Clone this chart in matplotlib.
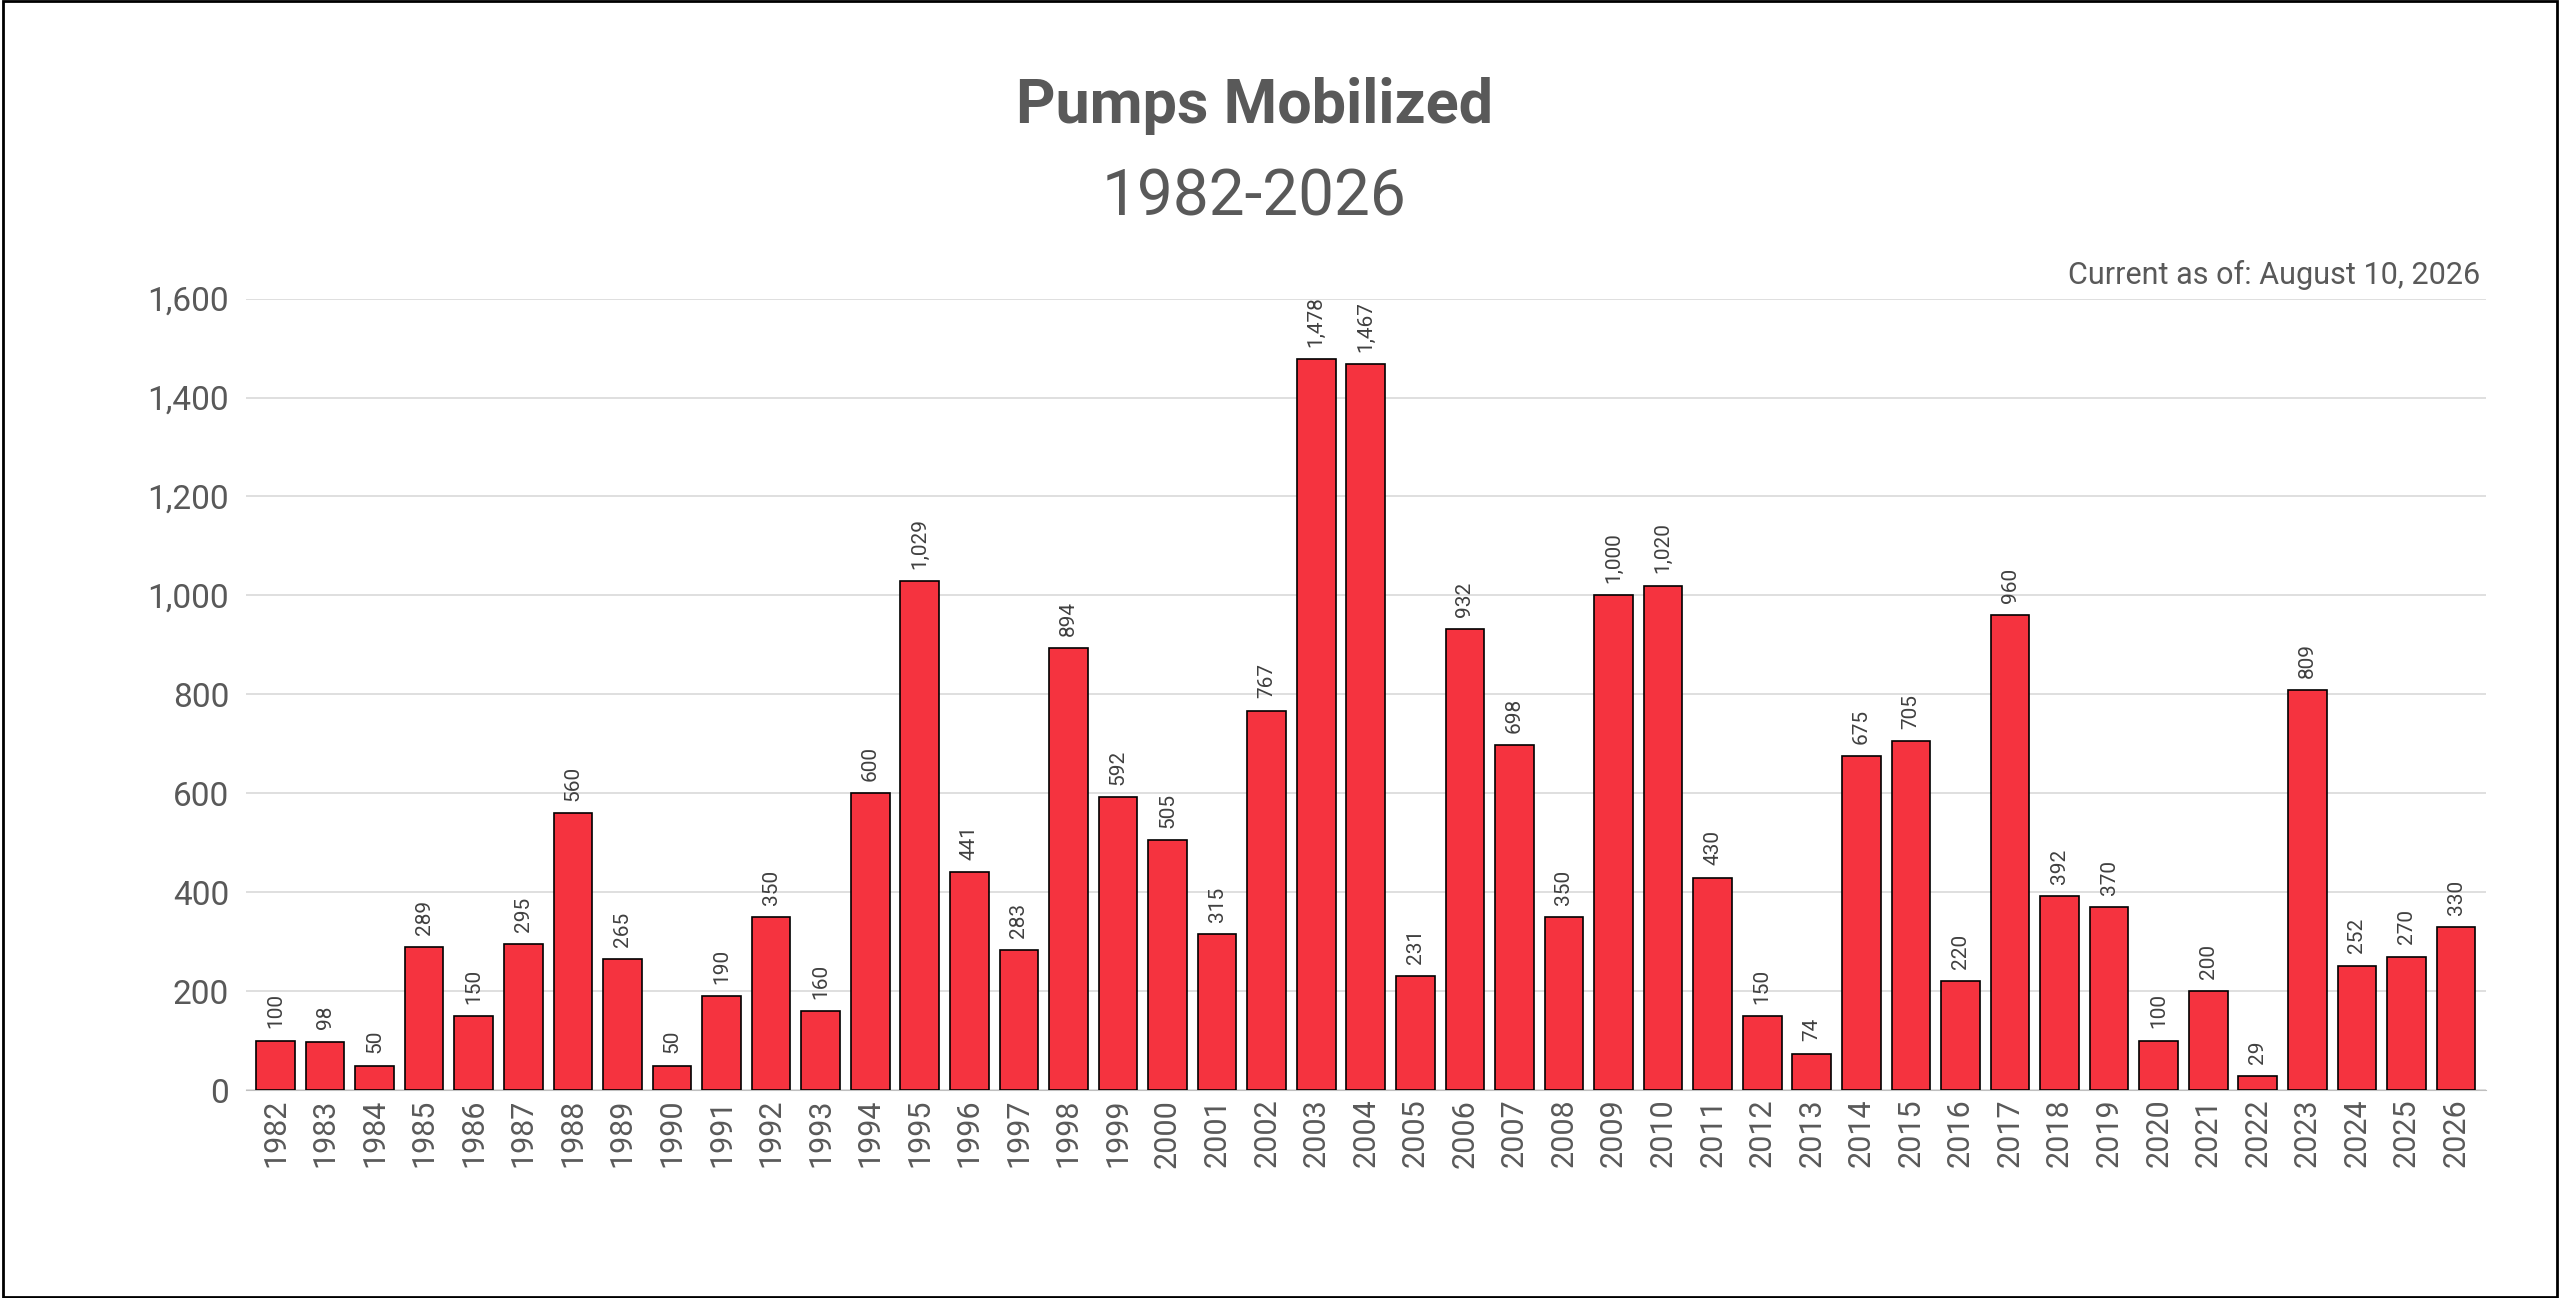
import matplotlib.pyplot as plt
from matplotlib.ticker import FuncFormatter

years = list(range(1982, 2027))
pumps = [100, 98, 50, 289, 150, 295, 560, 265, 50, 190, 350, 160, 600, 1029,
         441, 283, 894, 592, 505, 315, 767, 1478, 1467, 231, 932, 698, 350,
         1000, 1020, 430, 150, 74, 675, 705, 220, 960, 392, 370, 100, 200,
         29, 809, 252, 270, 330]

plt.rcParams['font.family'] = ['Roboto', 'DejaVu Sans']
grey = '#595959'

fig = plt.figure(figsize=(25.6, 12.98), dpi=100)
ax = fig.add_axes([0.096, 0.16, 0.875, 0.61])

ax.bar(range(len(years)), pumps, width=0.78, color='#F5333F',
       edgecolor='black', linewidth=1.2, zorder=3)
for i, v in enumerate(pumps):
    ax.text(i, v + 25, f'{v:,}', rotation=90, ha='center', va='bottom',
            fontsize=15, color='#404040')

ax.set_xlim(-0.6, len(years) - 0.4)
ax.set_ylim(0, 1600)
ax.set_yticks(range(0, 1601, 200))
ax.yaxis.set_major_formatter(FuncFormatter(lambda v, p: f'{int(v):,}'))
ax.set_xticks(range(len(years)))
ax.set_xticklabels([str(y) for y in years], rotation=90, fontsize=22, color=grey)
ax.tick_params(axis='y', labelsize=24, labelcolor=grey, length=0, pad=12)
ax.tick_params(axis='x', length=0, pad=6)
ax.grid(axis='y', color='#d9d9d9', linewidth=1.2, zorder=0)
for s in ['top', 'right', 'left']:
    ax.spines[s].set_visible(False)
ax.spines['bottom'].set_color('#bfbfbf')

fig.text(0.49, 0.918, 'Pumps Mobilized', ha='center', va='center',
         fontsize=44, fontweight='bold', color=grey)
fig.text(0.49, 0.848, '1982-2026', ha='center', va='center',
         fontsize=46, color=grey)
fig.text(0.969, 0.788, 'Current as of: August 10, 2026', ha='right',
         va='center', fontsize=22, color=grey)

fig.patches.append(plt.Rectangle((0.001, 0.001), 0.998, 0.998,
                                 transform=fig.transFigure, fill=False,
                                 edgecolor='black', linewidth=2))
fig.savefig('out.png', dpi=100)
